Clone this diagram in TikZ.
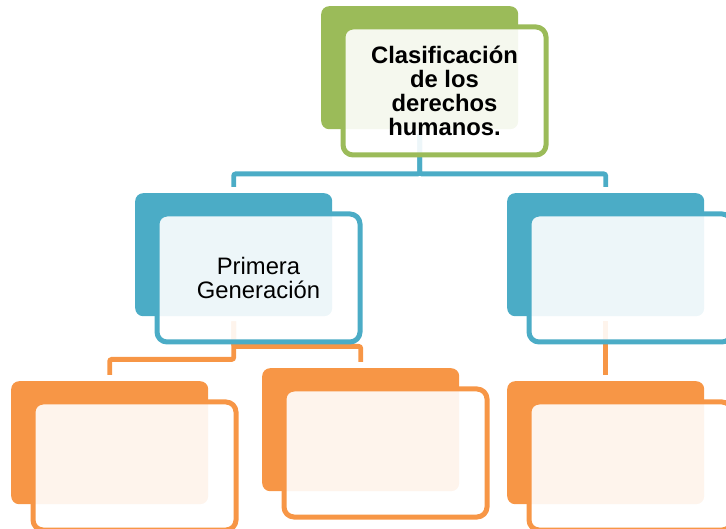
\documentclass[tikz,border=0pt]{standalone}
\usepackage{fontspec}
\setmainfont{Liberation Sans}
\usepackage{tikz}

\definecolor{hojaverde}{HTML}{9BBB59}
\definecolor{aguaazul}{HTML}{4BACC6}
\definecolor{naranja}{HTML}{F79646}

\tikzset{
  fondo/.style={shape=rectangle, rounded corners=8pt, minimum width=197pt, minimum height=123pt, anchor=north west, fill=#1},
  frente/.style={shape=rectangle, rounded corners=10pt, minimum width=203pt, minimum height=128pt, anchor=north west, draw=#1, line width=5pt, fill=white, fill opacity=0.9, text opacity=1, align=center},
  enlace/.style={draw=#1, line width=4.8pt, rounded corners=2pt, shorten <=5pt, shorten >=6pt}
}

\begin{document}
\begin{tikzpicture}[x=1pt, y=-1pt]
\clip (0,0) rectangle (726,529);

\node[name=clasif, fondo=hojaverde] at (321,6) {};
\node[name=gen1, fondo=aguaazul] at (135,193) {};
\node[name=gen2, fondo=aguaazul] at (507,193) {};
\node[name=hijo1, fondo=naranja] at (11,381) {};
\node[name=hijo2, fondo=naranja] at (262,368) {};
\node[name=hijo3, fondo=naranja] at (507,381) {};

\draw[enlace=aguaazul] (clasif.south) -- ++(0,44.5) -| (gen1.north);
\draw[enlace=aguaazul] (clasif.south) -- ++(0,44.5) -| (gen2.north);
\draw[enlace=naranja] (gen1.south) -- ++(0,43) -| (hijo1.north);
\draw[enlace=naranja] (gen1.south) -- ++(0,30) -| (hijo2.north);
\draw[enlace=naranja] (gen2.south) -- (hijo3.north);

\node[name=clasifF, frente=hojaverde, font={\fontsize{23.8}{24}\selectfont\bfseries}] at (340.5,24.5) {Clasificación\\de los\\derechos\\humanos.};
\node[name=gen1F, frente=aguaazul, font={\fontsize{23.8}{24}\selectfont}] at (154.5,211.5) {Primera\\Generación};
\node[name=gen2F, frente=aguaazul] at (526.5,211.5) {};
\node[name=hijo1F, frente=naranja] at (30.5,399.5) {};
\node[name=hijo2F, frente=naranja] at (281.5,386.5) {};
\node[name=hijo3F, frente=naranja] at (526.5,399.5) {};

\end{tikzpicture}
\end{document}
